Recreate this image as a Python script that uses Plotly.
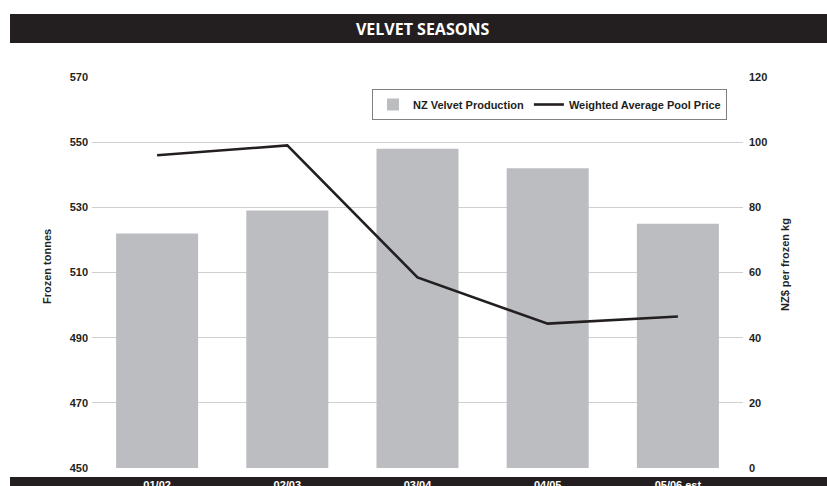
import plotly.graph_objects as go

seasons = ["01/02", "02/03", "03/04", "04/05", "05/06 est"]
production_tonnes = [522, 529, 548, 542, 525]
pool_price = [96, 99, 58.5, 44.3, 46.5]
left_ticks = [450, 470, 490, 510, 530, 550, 570]
right_ticks = [0, 20, 40, 60, 80, 100, 120]

W, H = 827, 486
ML, MR, MT, MB = 92, 84, 77, 18
PW, PH = W - ML - MR, H - MT - MB

def px_x(x):
    return (x - ML) / PW

def px_y(y):
    return (H - MB - y) / PH

NARROW = "Liberation Sans Narrow, Arial Narrow, Liberation Sans, Arial"
DARK = "#231f20"
FS = 11

fig = go.Figure()
fig.add_trace(go.Bar(
    x=seasons, y=production_tonnes, name="NZ Velvet Production",
    marker=dict(color="#bcbdc1", line=dict(width=0)), yaxis="y",
))
fig.add_trace(go.Scatter(
    x=seasons, y=pool_price, name="Weighted Average Pool Price",
    mode="lines", line=dict(color=DARK, width=2.6), yaxis="y2",
))

tf = dict(family=NARROW, size=FS, color=DARK, weight="bold")

fig.update_layout(
    template="none",
    width=W, height=H,
    margin=dict(l=ML, r=MR, t=MT, b=MB, autoexpand=False),
    paper_bgcolor="white", plot_bgcolor="white",
    bargap=0.37,
    font=tf,
    title=dict(text="<b>VELVET SEASONS</b>", x=0.511, xanchor="center",
               y=1 - 29 / H, yanchor="middle",
               font=dict(family="Open Sans, Noto Sans, Arial", size=16, color="white")),
    xaxis=dict(showgrid=False, showline=False, zeroline=False, ticks="",
               automargin=False, ticklabelstandoff=9,
               tickfont=dict(family=NARROW, size=FS, color="white", weight="bold")),
    yaxis=dict(range=[450, 570], tickvals=left_ticks, showgrid=True,
               gridcolor="#d0d0d0", gridwidth=1, zeroline=False, showline=False,
               ticks="", ticklabelstandoff=3, automargin=False, tickfont=tf),
    yaxis2=dict(range=[0, 120], tickvals=right_ticks, overlaying="y", side="right",
                showgrid=False, zeroline=False, showline=False, ticks="",
                ticklabelstandoff=5, automargin=False, tickfont=tf),
    legend=dict(orientation="h", x=px_x(727), xanchor="right", y=px_y(89), yanchor="top",
                bordercolor="#808080", borderwidth=1, bgcolor="white",
                font=tf, itemwidth=30, traceorder="normal"),
    showlegend=True,
)

# dark title band and bottom band
fig.add_shape(type="rect", xref="paper", yref="paper", layer="below",
              x0=px_x(10), x1=px_x(827), y0=px_y(43), y1=px_y(14),
              fillcolor=DARK, line=dict(width=0))
fig.add_shape(type="rect", xref="paper", yref="paper", layer="below",
              x0=px_x(10), x1=px_x(827), y0=px_y(490), y1=px_y(477),
              fillcolor=DARK, line=dict(width=0))

# axis titles
fig.add_annotation(text="Frozen tonnes", xref="paper", yref="paper",
                   x=px_x(47), y=px_y(266), textangle=-90, showarrow=False,
                   xanchor="center", yanchor="middle", font=tf)
fig.add_annotation(text="NZ$ per frozen kg", xref="paper", yref="paper",
                   x=px_x(785), y=px_y(265), textangle=-90, showarrow=False,
                   xanchor="center", yanchor="middle", font=tf)

fig.write_html("out.html")
